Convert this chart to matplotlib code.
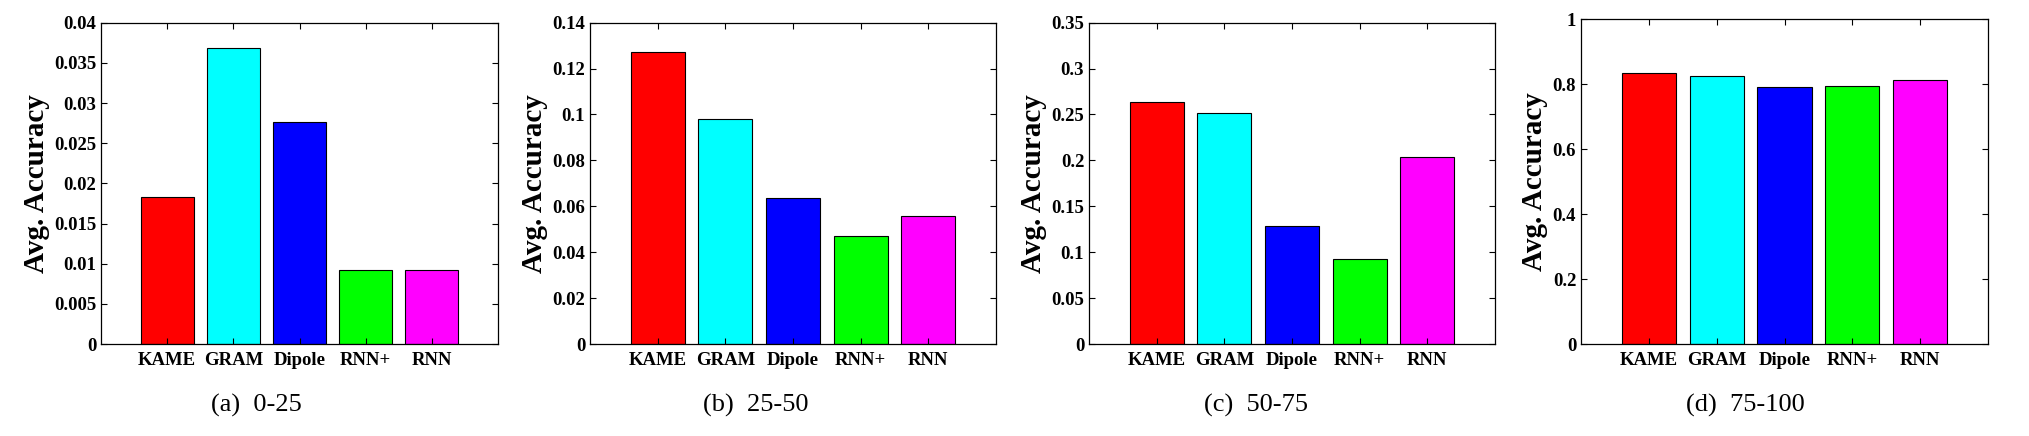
import matplotlib
matplotlib.use("Agg")
from matplotlib import pyplot as plt

methods = ["KAME", "GRAM", "Dipole", "RNN+", "RNN"]
colors = ["#ff0000", "#00ffff", "#0000ff", "#00ff00", "#ff00ff"]

acc_0_25 = [0.0183, 0.0368, 0.0276, 0.0092, 0.0092]
acc_25_50 = [0.1271, 0.0979, 0.0635, 0.0469, 0.0559]
acc_50_75 = [0.2632, 0.2512, 0.1282, 0.0922, 0.2033]
acc_75_100 = [0.8337, 0.8244, 0.7906, 0.7936, 0.8121]

captions = ["(a)  0-25", "(b)  25-50", "(c)  50-75", "(d)  75-100"]
ylims = [0.04, 0.14, 0.35, 1.0]
yticks = [
    [0, 0.005, 0.01, 0.015, 0.02, 0.025, 0.03, 0.035, 0.04],
    [0, 0.02, 0.04, 0.06, 0.08, 0.1, 0.12, 0.14],
    [0, 0.05, 0.1, 0.15, 0.2, 0.25, 0.3, 0.35],
    [0, 0.2, 0.4, 0.6, 0.8, 1],
]
ytick_labels = [
    ["0", "0.005", "0.01", "0.015", "0.02", "0.025", "0.03", "0.035", "0.04"],
    ["0", "0.02", "0.04", "0.06", "0.08", "0.1", "0.12", "0.14"],
    ["0", "0.05", "0.1", "0.15", "0.2", "0.25", "0.3", "0.35"],
    ["0", "0.2", "0.4", "0.6", "0.8", "1"],
]
data = [acc_0_25, acc_25_50, acc_50_75, acc_75_100]

W, H = 2029, 436
fig = plt.figure(figsize=(W / 100, H / 100), dpi=100)

# axes boxes in pixels: left, right, top, bottom
boxes = [(101, 498, 22.7, 344), (590, 996, 22.7, 344),
         (1089, 1495, 22.7, 344), (1581, 1988, 19.3, 344)]
caption_x = [256, 756, 1256, 1745]

for i in range(4):
    l, r, t, b = boxes[i]
    ax = fig.add_axes([l / W, 1 - b / H, (r - l) / W, (b - t) / H])
    x = range(1, 6)
    ax.bar(x, data[i], width=0.8, color=colors, edgecolor="black", linewidth=0.8)
    ax.set_xlim(0, 6)
    ax.set_ylim(0, ylims[i])
    ax.set_xticks(list(x))
    ax.set_xticklabels(methods, fontfamily="Liberation Serif", fontweight="bold", fontsize=13.5)
    ax.set_yticks(yticks[i])
    ax.set_yticklabels(ytick_labels[i], fontfamily="Liberation Serif", fontweight="bold", fontsize=13.5)
    ax.tick_params(direction="in", length=4, top=True, right=True, width=0.8)
    ax.tick_params(axis="x", pad=6)
    for s in ax.spines.values():
        s.set_linewidth(0.9)
    ax.set_ylabel("Avg. Accuracy", fontfamily="Liberation Serif", fontweight="bold", fontsize=21, labelpad=3)
    fig.text(caption_x[i] / W, 1 - 405 / H, captions[i],
             fontfamily="Liberation Serif", fontsize=19, ha="center", va="center")

plt.savefig("out.png", dpi=100)
